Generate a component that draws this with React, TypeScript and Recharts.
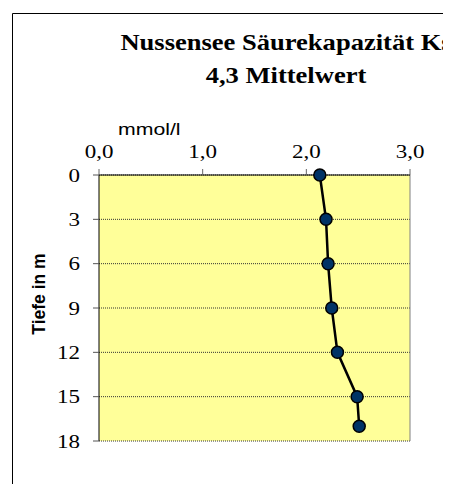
import React from 'react';
import { ScatterChart, Scatter, XAxis, YAxis, CartesianGrid, ReferenceLine } from 'recharts';

const depths = [0, 3, 6, 9, 12, 15, 17];
const values = [2.13, 2.19, 2.21, 2.245, 2.3, 2.49, 2.51];
const xTicks = [0, 1, 2, 3];
const yTicks = [0, 3, 6, 9, 12, 15, 18];
const titleLines = ['Nussensee Säurekapazität Ks', '4,3 Mittelwert'];
const xUnit = 'mmol/l';
const yTitle = 'Tiefe in m';

const data = depths.map((d, i) => ({ d, v: values[i] }));

const SERIF = '"Liberation Serif", "Times New Roman", serif';
const SANS = '"Liberation Sans", Arial, sans-serif';
const STRETCH = 1.18;

const XTick = (props: any) => {
  const { x, payload } = props;
  const label = Number(payload.value).toFixed(1).replace('.', ',');
  return (
    <text
      transform={`translate(${x},150) scale(${STRETCH},1)`}
      textAnchor="middle"
      fontFamily={SERIF}
      fontSize={19.5}
      fill="#000"
    >
      {label}
    </text>
  );
};

const YTick = (props: any) => {
  const { y, payload } = props;
  return (
    <text
      transform={`translate(72,${y + 6.5}) scale(${STRETCH},1)`}
      textAnchor="end"
      fontFamily={SERIF}
      fontSize={19.5}
      fill="#000"
    >
      {String(payload.value)}
    </text>
  );
};

const Dot = (props: any) => {
  const { cx, cy } = props;
  return <circle cx={cx} cy={cy} r={6} fill="#003366" stroke="#000" strokeWidth={1.5} />;
};

export default function App() {
  return (
    <div style={{ position: 'relative', width: 443, height: 476, overflow: 'hidden' }}>
      <ScatterChart
        width={443}
        height={476}
        margin={{ top: 137, right: 41, bottom: 43, left: 31 }}
      >
        <CartesianGrid
          vertical={false}
          horizontal={true}
          fill="#FFFF99"
          fillOpacity={1}
          stroke="#333"
          strokeDasharray="1 1"
        />
        <XAxis
          type="number"
          dataKey="v"
          orientation="top"
          domain={[0, 3]}
          ticks={xTicks}
          height={30}
          axisLine={{ stroke: '#000', strokeWidth: 1 }}
          tickLine={{ stroke: '#666' }}
          tickSize={6}
          tick={<XTick />}
          interval={0}
        />
        <YAxis
          type="number"
          dataKey="d"
          domain={[0, 18]}
          ticks={yTicks}
          reversed
          width={60}
          axisLine={{ stroke: '#000', strokeWidth: 1 }}
          tickLine={{ stroke: '#555' }}
          tickSize={6}
          tick={<YTick />}
          interval={0}
        />
        <ReferenceLine x={3} stroke="#808080" strokeWidth={1} />
        <Scatter
          data={data}
          line={{ stroke: '#000', strokeWidth: 2.5 }}
          shape={<Dot />}
          isAnimationActive={false}
        />
      </ScatterChart>
      <svg
        width={443}
        height={476}
        style={{ position: 'absolute', left: 0, top: 0, pointerEvents: 'none' }}
      >
        <line x1={4.5} y1={5.5} x2={443} y2={5.5} stroke="#000" strokeWidth={1} />
        <line x1={4.5} y1={5.5} x2={4.5} y2={476} stroke="#000" strokeWidth={1} />
        <text
          transform={`translate(278,42) scale(${STRETCH},1)`}
          textAnchor="middle"
          fontFamily={SERIF}
          fontWeight="bold"
          fontSize={22.5}
          fill="#000"
        >
          {titleLines[0]}
        </text>
        <text
          transform={`translate(278,75) scale(${STRETCH},1)`}
          textAnchor="middle"
          fontFamily={SERIF}
          fontWeight="bold"
          fontSize={22.5}
          fill="#000"
        >
          {titleLines[1]}
        </text>
        <text
          transform="translate(110,127) scale(1.25,1)"
          fontFamily={SANS}
          fontSize={17}
          fill="#000"
        >
          {xUnit}
        </text>
        <text
          transform="translate(37,286) rotate(-90)"
          textAnchor="middle"
          fontFamily={SANS}
          fontWeight="bold"
          fontSize={17.5}
          fill="#000"
        >
          {yTitle}
        </text>
      </svg>
    </div>
  );
}
